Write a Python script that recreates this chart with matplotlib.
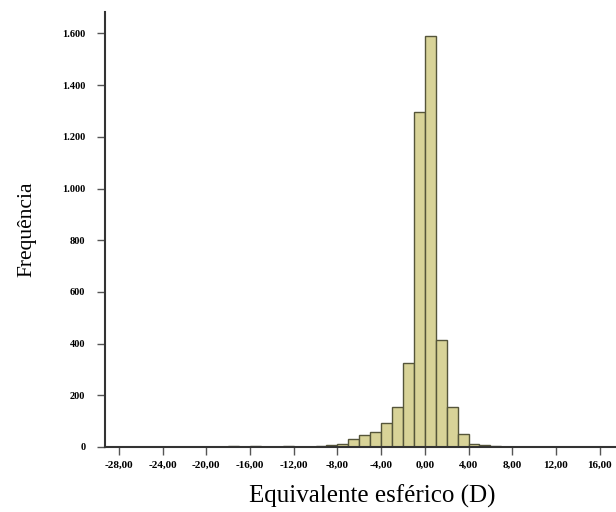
import matplotlib
matplotlib.use("Agg")
import matplotlib.pyplot as plt
from matplotlib.ticker import FuncFormatter

# Histogram bins (left edge, width 1 D) and frequencies
bin_left = [-18, -16, -13, -10, -9, -8, -7, -6, -5, -4, -3, -2, -1, 0, 1, 2, 3, 4, 5, 6]
counts = [4, 4, 3, 3, 6, 12, 32, 45, 58, 94, 155, 324, 1297, 1592, 414, 155, 52, 12, 7, 3]
bin_width = 1.0

x_ticks = [-28, -24, -20, -16, -12, -8, -4, 0, 4, 8, 12, 16]
y_ticks = [0, 200, 400, 600, 800, 1000, 1200, 1400, 1600]

fig = plt.figure(figsize=(6.16, 5.12), dpi=100)
ax = fig.add_axes([0.170, 0.127, 0.830, 0.850])

ax.bar(bin_left, counts, width=bin_width, align='edge',
       color='#d8d398', edgecolor='#55553a', linewidth=1.0)

ax.set_xlim(-29.3, 17.5)
ax.set_ylim(0, 1684)

ax.set_xticks(x_ticks)
ax.set_yticks(y_ticks)
ax.xaxis.set_major_formatter(FuncFormatter(lambda v, p: f"{v:.2f}".replace('.', ',')))
ax.yaxis.set_major_formatter(FuncFormatter(lambda v, p: f"{int(v):,}".replace(',', '.')))

for lab in ax.get_xticklabels():
    lab.set_fontfamily('Liberation Serif')
    lab.set_fontweight('bold')
    lab.set_fontsize(8)
for lab in ax.get_yticklabels():
    lab.set_fontfamily('Liberation Serif')
    lab.set_fontweight('bold')
    lab.set_fontsize(7.5)

ax.tick_params(axis='both', direction='out', length=6, width=1, color='#555555')
ax.tick_params(axis='y', pad=8)
ax.tick_params(axis='x', pad=4)

for s in ['top', 'right']:
    ax.spines[s].set_visible(False)
for s in ['left', 'bottom']:
    ax.spines[s].set_color('#333333')
    ax.spines[s].set_linewidth(1.5)

ax.set_xlabel('Equivalente esférico (D)', fontfamily='Liberation Serif', fontsize=18)
ax.xaxis.set_label_coords(0.523, -0.086)
ax.set_ylabel('Frequência', fontfamily='Liberation Serif', fontsize=15.5, labelpad=18)

fig.savefig('out.png', dpi=100)
